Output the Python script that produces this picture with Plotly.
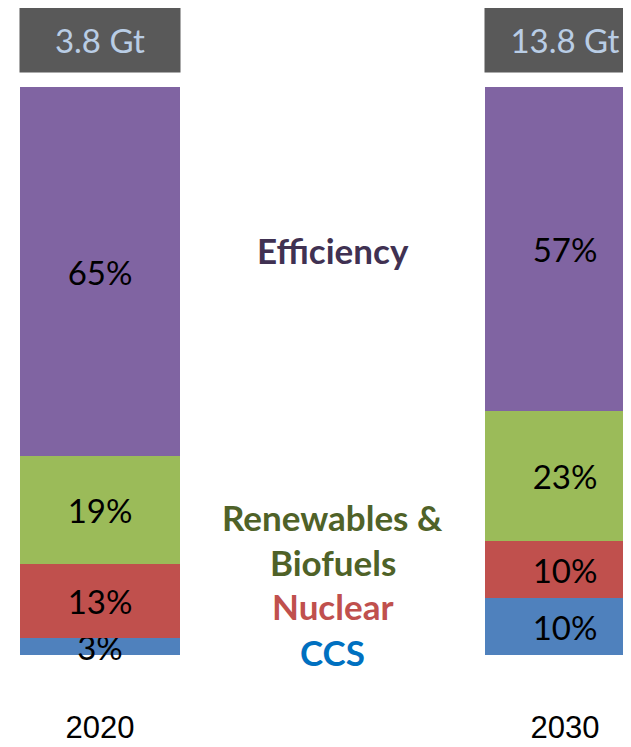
import plotly.graph_objects as go

# abatement share by option, in % of total
years = ["2020", "2030"]
totals = ["3.8 Gt", "13.8 Gt"]
ccs = [3, 10]
nuclear = [13, 10]
renewables = [19, 23]
efficiency = [65, 57]

series = [
    ("CCS", ccs, "#4F81BD"),
    ("Nuclear", nuclear, "#C0504D"),
    ("Renewables & Biofuels", renewables, "#9BBB59"),
    ("Efficiency", efficiency, "#8064A2"),
]

label_font = "Lato"
bar_w = 0.344

fig = go.Figure()

# thin grey base line under each column
fig.add_trace(go.Bar(
    x=years, y=[-0.45, -0.45], marker=dict(color="#8C8C8C", line=dict(width=0)),
    width=bar_w, hoverinfo="skip", showlegend=False, cliponaxis=False,
))

for name, vals, color in series:
    fig.add_trace(go.Bar(
        x=years,
        y=vals,
        name=name,
        width=bar_w,
        marker=dict(color=color, line=dict(width=0)),
        text=[f"{v}%" for v in vals],
        textposition="inside",
        insidetextanchor="middle",
        constraintext="none",
        cliponaxis=False,
        textfont=dict(family=label_font, size=33, color="black"),
        showlegend=False,
    ))

# total boxes above the columns
for i, tot in enumerate(totals):
    fig.add_annotation(
        x=i, y=108.3, text=tot, showarrow=False,
        bgcolor="#595959", width=160, height=64, borderpad=0,
        font=dict(family=label_font, size=33, color="#B9CDE5"),
    )

# category legend in the middle
legend = [
    ("Efficiency", 71.3, "#403152"),
    ("Renewables &", 24.3, "#4F6228"),
    ("Biofuels", 16.4, "#4F6228"),
    ("Nuclear", 8.6, "#C0504D"),
    ("CCS", 0.5, "#0070C0"),
]
for txt, yy, col in legend:
    fig.add_annotation(
        x=0.5, y=yy, text=f"<b>{txt}</b>", showarrow=False,
        font=dict(family=label_font, size=35, color=col),
    )

# page body adds an 8px margin, so the figure is 8px smaller than the window
fig.update_layout(
    width=623, height=739,
    barmode="relative",
    bargap=0,
    margin=dict(l=0, r=0, t=0, b=92),
    plot_bgcolor="white",
    paper_bgcolor="white",
    xaxis=dict(
        type="category", range=[-0.1978, 1.1419],
        showgrid=False, showline=False, zeroline=False, ticks="",
        automargin=False,
        ticklabelstandoff=51,
        tickfont=dict(family="Liberation Sans", size=31, color="black"),
    ),
    yaxis=dict(
        range=[0, 113.9], visible=False, showgrid=False, zeroline=False,
        automargin=False,
    ),
)

fig.write_html("out.html")
